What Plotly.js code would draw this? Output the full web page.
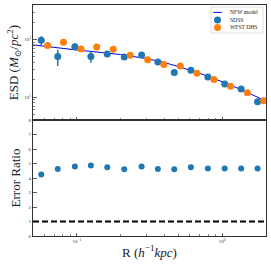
<!DOCTYPE html>
<html>
<head>
<meta charset="utf-8">
<script src="https://cdn.plot.ly/plotly-3.0.1.min.js"></script>
<style>html,body{margin:0;padding:0;background:#fff;}#chart{width:271px;height:266px;}</style>
</head>
<body>
<div id="chart"></div>
<script>
// Model curve
const modelR   = [0.05, 0.07, 0.1, 0.15, 0.2, 0.3, 0.4, 0.5, 0.7, 1.0, 1.4, 2.0];
const modelESD = [81, 73, 66, 59.5, 55, 47, 40, 34, 26, 18.5, 13, 8.5];

// SDSS
const sdssR   = [0.057, 0.074, 0.097, 0.125, 0.162, 0.212, 0.279, 0.361, 0.468, 0.609, 0.797, 1.04, 1.35, 1.75];
const sdssESD = [97.7, 50.7, 75.5, 50.7, 56.5, 50.1, 54.2, 41.0, 26.7, 29.4, 22.5, 17.0, 13.9, 8.3];
const sdssErr = [17, 16, 10, 11, 4, 3, 3, 2.5, 1.6, 1.6, 1.2, 0.9, 0.7, 0.5];

// WFST DHS
const wfstR   = [0.063, 0.081, 0.107, 0.137, 0.178, 0.233, 0.307, 0.397, 0.515, 0.670, 0.877, 1.14, 1.49, 1.93];
const wfstESD = [78.7, 90.2, 69.0, 74.7, 68.1, 53.6, 44.5, 36.8, 34.9, 26.1, 20.2, 15.5, 11.9, 8.7];

// Error ratio
const ratio = [4.24, 4.63, 4.79, 4.86, 4.75, 4.61, 4.79, 4.63, 4.61, 4.75, 4.65, 4.65, 4.65, 4.65];

const legendNames = ['NFW model', 'SDSS', 'WFST DHS'];

const xMajor = [0.1, 1];
const xMajorText = ['10<sup>−1</sup>', '10<sup>0</sup>'];
const xMinor = [0.06, 0.07, 0.08, 0.09, 0.2, 0.3, 0.4, 0.5, 0.6, 0.7, 0.8, 0.9, 2];
const yMajor = [10, 100];
const yMajorText = ['10<sup>1</sup>', '10<sup>2</sup>'];
const yMinor = [5, 6, 7, 8, 9, 20, 30, 40, 50, 60, 70, 80, 90, 200, 300, 400];

const blue = '#1f77b4', orange = '#ff7f0e', modelBlue = '#0000ff';
const serif = 'Liberation Serif, DejaVu Serif, serif';
const axisCol = '#333';

const traces = [
  {x: modelR, y: modelESD, type: 'scatter', mode: 'lines', name: legendNames[0],
   line: {color: modelBlue, width: 1}, xaxis: 'x2', yaxis: 'y2'},
  {x: sdssR, y: sdssESD, type: 'scatter', mode: 'markers', name: legendNames[1],
   marker: {color: blue, size: 7},
   error_y: {type: 'data', array: sdssErr, visible: true, color: blue, thickness: 1.5, width: 0},
   xaxis: 'x2', yaxis: 'y2'},
  {x: wfstR, y: wfstESD, type: 'scatter', mode: 'markers', name: legendNames[2],
   marker: {color: orange, size: 7}, xaxis: 'x2', yaxis: 'y2'},
  {x: sdssR, y: ratio, type: 'scatter', mode: 'markers', name: 'Error Ratio',
   marker: {color: blue, size: 6}, xaxis: 'x', yaxis: 'y'}
];

const xCommon = {
  type: 'log', range: [Math.log10(0.05), Math.log10(2)],
  showline: true, linecolor: axisCol, linewidth: 1, mirror: true,
  showgrid: false, zeroline: false,
  ticks: 'inside', ticklen: 3.5, tickwidth: 0.8, tickcolor: axisCol,
  tickmode: 'array', tickvals: xMajor, ticktext: xMajorText,
  minor: {ticks: 'inside', ticklen: 2, tickwidth: 0.6, tickcolor: axisCol, tickmode: 'array', tickvals: xMinor, showgrid: false},
  tickfont: {family: serif, size: 5, color: '#333'}
};

// hand-drawn compact legend (paper coordinates)
const legendFont = {family: serif, size: 5.6, color: '#222'};
const shapes = [
  {type: 'line', xref: 'x domain', x0: 0, x1: 1, yref: 'y', y0: 1, y1: 1,
   line: {color: '#000', width: 2, dash: '6px,3px'}},
  {type: 'rect', xref: 'paper', yref: 'paper', x0: 0.764, x1: 0.987, y0: 0.879, y1: 0.991,
   line: {color: '#cccccc', width: 0.6}, fillcolor: 'rgba(255,255,255,0.85)'},
  {type: 'line', xref: 'paper', yref: 'paper', x0: 0.774, x1: 0.810, y0: 0.968, y1: 0.968,
   line: {color: modelBlue, width: 1}},
  {type: 'circle', xref: 'paper', yref: 'paper', xsizemode: 'pixel', ysizemode: 'pixel',
   xanchor: 0.792, yanchor: 0.935, x0: -3.5, x1: 3.5, y0: -3.5, y1: 3.5,
   line: {width: 0}, fillcolor: blue},
  {type: 'circle', xref: 'paper', yref: 'paper', xsizemode: 'pixel', ysizemode: 'pixel',
   xanchor: 0.792, yanchor: 0.903, x0: -3.5, x1: 3.5, y0: -3.5, y1: 3.5,
   line: {width: 0}, fillcolor: orange}
];
const legendY = [0.968, 0.935, 0.903];
const annotations = legendNames.map((t, i) => ({
  text: t, xref: 'paper', yref: 'paper', x: 0.836, y: legendY[i],
  xanchor: 'left', yanchor: 'middle', showarrow: false, font: legendFont
}));

const layout = {
  width: 271, height: 266,
  margin: {l: 33, r: 5, t: 5, b: 30},
  paper_bgcolor: '#fff', plot_bgcolor: '#fff',
  showlegend: false,
  font: {family: serif},
  xaxis: Object.assign({}, xCommon, {
    anchor: 'y',
    title: {text: 'R (<i>h</i><sup>−1</sup><i>kpc</i>)', font: {family: serif, size: 13, color: '#222'}, standoff: 4}
  }),
  xaxis2: Object.assign({}, xCommon, {anchor: 'y2', matches: 'x', showticklabels: false}),
  yaxis: {
    domain: [0, 0.502], range: [0, 8], anchor: 'x',
    showline: true, linecolor: axisCol, linewidth: 1, mirror: true,
    showgrid: false, zeroline: false,
    ticks: 'inside', ticklen: 3.5, tickwidth: 0.8, tickcolor: axisCol,
    tickmode: 'linear', tick0: 0, dtick: 1,
    tickfont: {family: serif, size: 5, color: '#333'},
    title: {text: 'Error Ratio', font: {family: serif, size: 13, color: '#222'}, standoff: 4}
  },
  yaxis2: {
    domain: [0.502, 1], type: 'log', range: [Math.log10(4), Math.log10(400)], anchor: 'x2',
    showline: true, linecolor: axisCol, linewidth: 1, mirror: true,
    showgrid: false, zeroline: false,
    ticks: 'inside', ticklen: 3.5, tickwidth: 0.8, tickcolor: axisCol,
    tickmode: 'array', tickvals: yMajor, ticktext: yMajorText,
    minor: {ticks: 'inside', ticklen: 2, tickwidth: 0.6, tickcolor: axisCol, tickmode: 'array', tickvals: yMinor, showgrid: false},
    tickfont: {family: serif, size: 5, color: '#333'},
    title: {text: 'ESD (<i>M</i><sub>⊙</sub>/<i>pc</i><sup>2</sup>)', font: {family: serif, size: 13, color: '#222'}, standoff: 2}
  },
  shapes: shapes,
  annotations: annotations
};

Plotly.newPlot('chart', traces, layout, {displayModeBar: false, staticPlot: true});
</script>
</body>
</html>
